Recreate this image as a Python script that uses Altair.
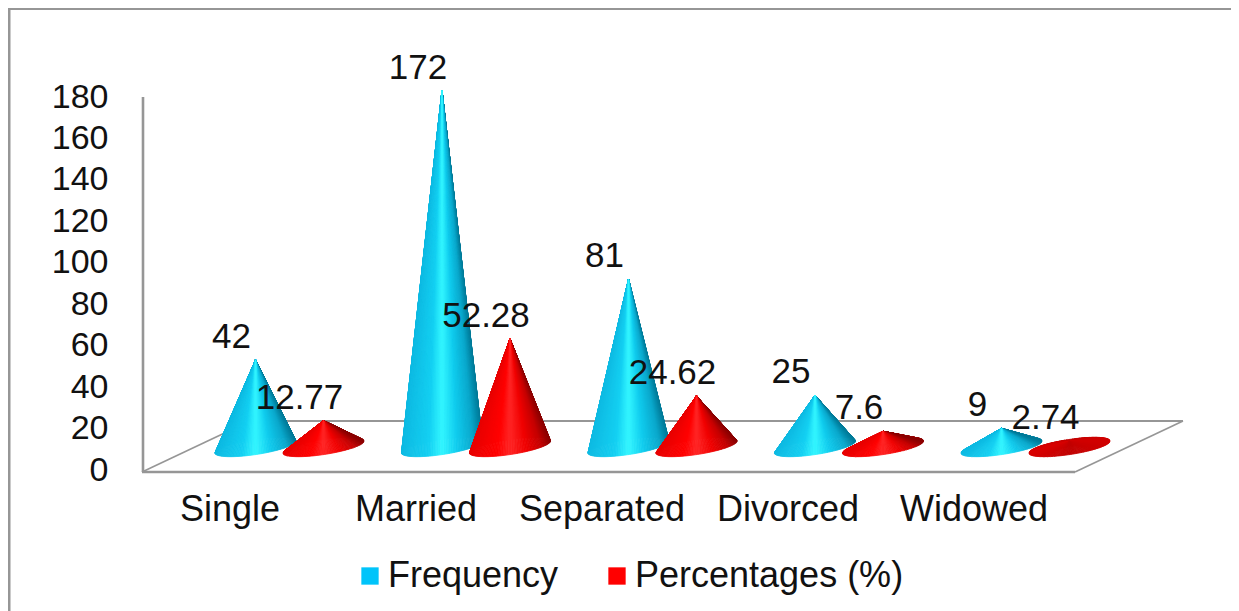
import numpy as np
import pandas as pd
import altair as alt

categories = ["Single", "Married", "Separated", "Divorced", "Widowed"]
frequency = [42, 172, 81, 25, 9]
percentages = [12.77, 52.28, 24.62, 7.6, 2.74]
freq_labels = ["42", "172", "81", "25", "9"]
pct_labels = ["12.77", "52.28", "24.62", "7.6", "2.74"]
series_names = ["Frequency", "Percentages (%)"]
y_ticks = list(range(0, 181, 20))

# page geometry of the imitated 3-D box
X0, X1 = 8, 1231
PY_ZERO, PY_180 = 470.0, 97.0
PX_PER_UNIT = (PY_ZERO - PY_180) / 180
def yv(py):
    return (PY_ZERO - py) / PX_PER_UNIT
Y_DOMAIN = [yv(611), yv(8)]

FIRST_BLUE, STEP, RED_SHIFT = 255.5, 186.5, 68.0
FIRST_LABEL, LABEL_STEP = 229.5, 186.0
BASE = yv(447)
A, TILT, B = 40.5, 6.0, 7.6
N_WEDGES = 144

BLUE_RAMP = [(0, (14, 186, 226)), (0.34, (20, 208, 242)), (0.5, (50, 246, 255)), (0.68, (16, 204, 238)), (0.88, (10, 168, 204)), (1, (0, 122, 152))]
RED_RAMP = [(0, (232, 0, 0)), (0.34, (255, 0, 0)), (0.5, (255, 36, 36)), (0.7, (240, 0, 0)), (0.88, (196, 0, 0)), (1, (136, 0, 0))]
DARK_RAMP = [(0, (216, 0, 0)), (0.5, (192, 0, 0)), (1, (208, 0, 0))]


def shade(ramp, f):
    offs = [r[0] for r in ramp]
    return "#%02x%02x%02x" % tuple(
        int(round(np.interp(f, offs, [r[1][c] for r in ramp]))) for c in range(3)
    )


def ellipse(t):
    return A * np.cos(t), (TILT * np.cos(t) - B * np.sin(t)) / PX_PER_UNIT


def wedge_rows(name, cx, value, ramp):
    # Triangles from the apex to the rim, painted from the back of the rim to the front.
    edges = np.linspace(0, 2 * np.pi, N_WEDGES + 1)
    wedges = sorted(
        ((np.sin((edges[k] + edges[k + 1]) / 2), k) for k in range(N_WEDGES))
    )
    rows = []
    for rank, (_, k) in enumerate(wedges):
        t0, t1 = edges[k], edges[k + 1]
        mid = (t0 + t1) / 2
        x0, y0 = ellipse(t0)
        x1, y1 = ellipse(t1)
        pts = sorted([(0.0, float(value)), (float(x0), float(y0)), (float(x1), float(y1))])
        (xa, ya), (xb, yb), (xc, yc) = pts
        on_line = ya + (yc - ya) * (xb - xa) / max(xc - xa, 1e-6)
        color = shade(ramp, (np.cos(mid) + 1) / 2)
        wid = f"{name}-{rank:03d}"
        rows += [
            {"id": wid, "x": cx + xa, "top": BASE + ya, "bottom": BASE + ya, "c": color},
            {"id": wid, "x": cx + xb, "top": BASE + max(yb, on_line), "bottom": BASE + min(yb, on_line), "c": color},
            {"id": wid, "x": cx + xc, "top": BASE + yc, "bottom": BASE + yc, "c": color},
        ]
    return rows


blue_rows, red_rows, label_rows = [], [], []
for i, cat in enumerate(categories):
    bx = FIRST_BLUE + i * STEP
    rx = bx + RED_SHIFT
    blue_rows += wedge_rows(f"b{i}", bx, frequency[i], BLUE_RAMP)
    red_rows += wedge_rows(f"r{i}", rx, percentages[i], DARK_RAMP if percentages[i] < 4 else RED_RAMP)
    label_rows.append({"x": bx, "y": BASE + frequency[i], "t": freq_labels[i]})
    label_rows.append({"x": rx, "y": BASE + percentages[i], "t": pct_labels[i]})

tick_x = [FIRST_LABEL + i * LABEL_STEP for i in range(len(categories))]
label_expr = "{" + ",".join(f"'{x:g}':'{c}'" for x, c in zip(tick_x, categories)) + "}[datum.value]"

x_scale = alt.Scale(domain=[X0, X1], range=[0, X1 - X0], nice=False, zero=False)
y_scale = alt.Scale(domain=Y_DOMAIN, nice=False, zero=False)
FONT = "Liberation Sans"

x_enc = alt.X(
    "x:Q", scale=x_scale,
    axis=alt.Axis(
        title=None, values=tick_x, labelExpr=label_expr, domain=False, ticks=False, grid=False,
        labelFont=FONT, labelFontSize=36, labelColor="#111111", offset=-102, labelPadding=0,
        labelBaseline="middle", labelFlush=False, labelOverlap=False, labelBound=False,
    ),
)
y_enc = alt.Y(
    "top:Q", scale=y_scale,
    axis=alt.Axis(
        title=None, values=y_ticks, domain=False, ticks=False, grid=False,
        labelFont=FONT, labelFontSize=34, labelColor="#111111", offset=-135, labelPadding=35,
        labelOverlap=False, labelBound=False, labelFlush=False,
    ),
)


def cones(rows):
    return alt.Chart(pd.DataFrame(rows)).mark_area(opacity=1, strokeWidth=0.8).encode(
        x=x_enc, y=y_enc, y2="bottom:Q", detail="id:N",
        color=alt.Color("c:N", scale=None, legend=None),
        stroke=alt.Stroke("c:N", scale=None, legend=None),
    )


# box lines: frame, back wall axis, floor
segments = [
    {"id": "frame_top", "x": X0, "top": yv(8.5), "w": 3},
    {"id": "frame_top", "x": X1, "top": yv(8.5), "w": 3},
    {"id": "frame_left", "x": 9, "top": yv(8), "w": 3},
    {"id": "frame_left", "x": 9, "top": yv(611), "w": 3},
    {"id": "wall", "x": 143, "top": yv(97), "w": 2.6},
    {"id": "wall", "x": 143, "top": yv(472), "w": 2.6},
    {"id": "front", "x": 142, "top": yv(472), "w": 2.6},
    {"id": "front", "x": 1075, "top": yv(472), "w": 2.6},
    {"id": "back", "x": 250, "top": yv(421), "w": 2.2},
    {"id": "back", "x": 1183, "top": yv(421), "w": 2.2},
    {"id": "left_side", "x": 142, "top": yv(472), "w": 1.6},
    {"id": "left_side", "x": 250, "top": yv(421), "w": 1.6},
    {"id": "right_side", "x": 1075, "top": yv(472), "w": 1.6},
    {"id": "right_side", "x": 1183, "top": yv(421), "w": 1.6},
]
seg_df = pd.DataFrame(segments)
box = alt.Chart(seg_df).mark_line(color="#969696", strokeCap="butt", clip=False).encode(
    x=x_enc, y=y_enc, detail="id:N",
    strokeWidth=alt.StrokeWidth("w:Q", scale=None, legend=None),
)

texts = alt.Chart(pd.DataFrame(label_rows)).mark_text(
    font=FONT, fontSize=35, color="#111111", dx=-24, dy=-23, baseline="middle", align="center"
).encode(
    x=alt.X("x:Q", scale=x_scale),
    y=alt.Y("y:Q", scale=y_scale),
    text="t:N",
)

legend_df = pd.DataFrame({"s": series_names, "x": [X0, X0], "top": [0, 0]})
legend_layer = alt.Chart(legend_df).mark_square(size=0, opacity=0).encode(
    x=alt.X("x:Q", scale=x_scale),
    y=alt.Y("top:Q", scale=y_scale),
    fill=alt.Fill(
        "s:N",
        scale=alt.Scale(domain=series_names, range=["#00c4fa", "#ff0000"]),
        legend=alt.Legend(
            title=None, orient="none", legendX=344, legendY=550, columns=2, columnPadding=40,
            symbolType="square", symbolSize=300, symbolOpacity=1, symbolStrokeWidth=0,
            labelFont=FONT, labelFontSize=36, labelColor="#111111", labelOffset=0, labelLimit=400,
        ),
    ),
)

chart = alt.layer(
    box, cones(blue_rows), cones(red_rows), texts, legend_layer
).resolve_scale(color="independent", stroke="independent", fill="independent").properties(
    width=X1 - X0, height=603, padding=0, autosize=alt.AutoSizeParams(type="none"), background="white"
).configure_view(stroke=None)

chart.save("out.html", embed_options={"renderer": "svg", "actions": False})
